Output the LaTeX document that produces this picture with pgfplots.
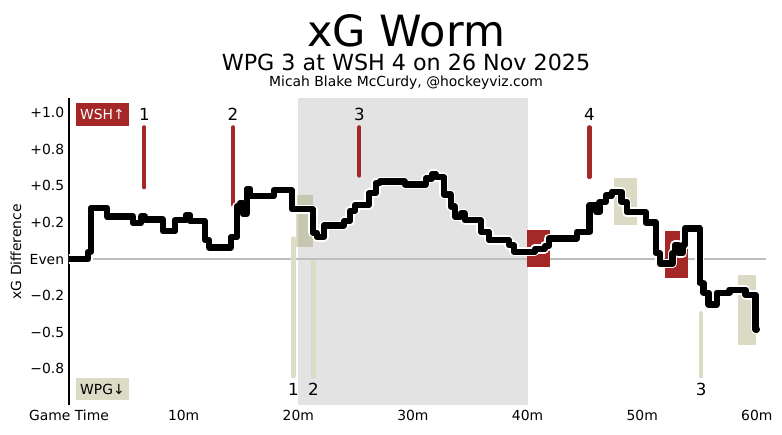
\documentclass[border=0pt]{standalone}
\usepackage{fontspec}
\setmainfont{DejaVu Sans}
\usepackage{pgfplots}
\usepackage{pgfplotstable}
\pgfplotsset{compat=1.18}
\definecolor{wshred}{RGB}{165,40,40}
\definecolor{wpgtan}{RGB}{220,220,198}
\definecolor{wpgbox}{RGB}{142,142,74}
\definecolor{bandgray}{RGB}{227,227,227}
\definecolor{zeroline}{RGB}{190,190,190}

\pgfplotstableread{
t v
0 0
1.66 0.05
1.92 0.35
3.31 0.29
5.58 0.245
6.28 0.29
6.63 0.27
8.20 0.19
9.24 0.265
10.20 0.30
10.55 0.26
11.86 0.13
12.21 0.08
14.12 0.15
14.65 0.36
14.91 0.38
15.17 0.31
15.52 0.48
15.78 0.43
17.87 0.47
19.44 0.34
21.27 0.18
21.62 0.15
22.23 0.23
23.98 0.26
24.50 0.33
24.94 0.37
26.16 0.45
26.77 0.52
27.11 0.53
29.29 0.51
31.12 0.55
31.65 0.58
32.00 0.56
32.69 0.44
33.30 0.36
33.65 0.29
34.18 0.31
34.52 0.265
35.92 0.185
36.62 0.13
38.36 0.095
38.80 0.05
40.63 0.07
41.50 0.09
41.85 0.14
44.29 0.185
45.42 0.37
46.03 0.32
46.29 0.39
46.82 0.435
47.34 0.46
48.21 0.39
48.65 0.32
50.31 0.25
51.18 0.04
51.53 -0.03
52.66 0.04
52.84 0.095
53.18 0.04
53.53 0.095
53.71 0.21
55.02 -0.165
55.36 -0.23
55.80 -0.31
56.50 -0.23
57.63 -0.21
59.02 -0.245
59.90 -0.48
60.00 -0.48
}\worm

\begin{document}
\begin{tikzpicture}
\begin{axis}[
  at={(0,0)}, anchor=south west,
  scale only axis, width=501.84pt, height=221.4pt,
  xmin=0, xmax=60.8, ymin=-1, ymax=1.1,
  enlargelimits=false,
  axis lines*=left,
  x axis line style={draw=none},
  y axis line style={-, line width=0.9pt},
  tick style={draw=none},
  xtick={0,10,20,30,40,50,60},
  xticklabels={Game Time,10m,20m,30m,40m,50m,60m},
  ytick={-0.75,-0.5,-0.25,0,0.25,0.5,0.75,1},
  yticklabels={−0.8,−0.5,−0.2,Even,+0.2,+0.5,+0.8,+1.0},
  tick label style={font=\fontsize{10}{12}\selectfont},
  ylabel={xG Difference},
  ylabel style={font=\fontsize{10}{12}\selectfont, at={(axis description cs:-0.076,0.5)}, anchor=center},
]
% second-period band (20m-40m)
\addplot[draw=none, fill=bandgray] coordinates {(20,-1) (40,-1) (40,1.1) (20,1.1)};
% zero line
\addplot[zeroline, line width=1.1pt] coordinates {(0,0) (60.8,0)};
% penalty boxes
\addplot[draw=none, fill=wpgbox, fill opacity=0.32] coordinates {(19.81,0.084) (21.29,0.084) (21.29,0.437) (19.81,0.437)};
\addplot[draw=none, fill=wshred] coordinates {(39.94,-0.053) (41.97,-0.053) (41.97,0.198) (39.94,0.198)};
\addplot[draw=none, fill=wpgbox, fill opacity=0.32] coordinates {(47.56,0.232) (49.54,0.232) (49.54,0.551) (47.56,0.551)};
\addplot[draw=none, fill=wshred] coordinates {(51.97,-0.132) (53.99,-0.132) (53.99,0.193) (51.97,0.193)};
\addplot[draw=none, fill=wpgbox, fill opacity=0.32] coordinates {(58.32,-0.587) (59.92,-0.587) (59.92,-0.109) (58.32,-0.109)};
% WSH goals
\addplot[wshred, line width=3pt, line cap=round] coordinates {(6.57,0.49) (6.57,0.90)};
\addplot[wshred, line width=3pt, line cap=round] coordinates {(14.31,0.37) (14.31,0.90)};
\addplot[wshred, line width=3pt, line cap=round] coordinates {(25.33,0.57) (25.33,0.90)};
\addplot[wshred, line width=3pt, line cap=round] coordinates {(45.40,0.56) (45.40,0.90)};
% WPG goals
\addplot[wpgtan, line width=3.2pt, line cap=round] coordinates {(19.57,-0.80) (19.57,0.14)};
\addplot[wpgtan, line width=3.2pt, line cap=round] coordinates {(21.32,-0.80) (21.32,-0.02)};
\addplot[wpgtan, line width=3.2pt, line cap=round] coordinates {(55.15,-0.80) (55.15,-0.37)};
% worm
\addplot[const plot, white, line width=6.8pt, line join=round, line cap=round] table[x=t, y=v] {\worm};
\addplot[const plot, black, line width=4.6pt, line join=round, line cap=round] table[x=t, y=v] {\worm};
% goal numbers
\node[font=\fontsize{12}{14}\selectfont] at (axis cs:6.57,0.99) {1};
\node[font=\fontsize{12}{14}\selectfont] at (axis cs:14.31,0.99) {2};
\node[font=\fontsize{12}{14}\selectfont] at (axis cs:25.33,0.99) {3};
\node[font=\fontsize{12}{14}\selectfont] at (axis cs:45.40,0.99) {4};
\node[font=\fontsize{12}{14}\selectfont] at (axis cs:19.57,-0.89) {1};
\node[font=\fontsize{12}{14}\selectfont] at (axis cs:21.32,-0.89) {2};
\node[font=\fontsize{12}{14}\selectfont] at (axis cs:55.15,-0.89) {3};
% team tags
\node[fill=wshred, text=white, minimum width=38.2pt, minimum height=16.1pt, inner sep=0pt, font=\fontsize{10}{12}\selectfont] at (rel axis cs:0.048,0.946) {WSH↑};
\node[fill=wpgtan, text=black, minimum width=38.2pt, minimum height=16.1pt, inner sep=0pt, font=\fontsize{10}{12}\selectfont] at (rel axis cs:0.048,0.053) {WPG↓};
\end{axis}
\begin{scope}[x=0.72pt, y=-0.72pt, shift={(-69,-405.5)}]
\node[anchor=base, inner sep=0pt, font=\fontsize{31}{35}\selectfont] at (406,47) {xG Worm};
\node[anchor=base, inner sep=0pt, font=\fontsize{16}{19}\selectfont] at (406,71) {WPG 3 at WSH 4 on 26 Nov 2025};
\node[anchor=base, inner sep=0pt, font=\fontsize{10}{12}\selectfont] at (406,87) {Micah Blake McCurdy, @hockeyviz.com};
\pgfresetboundingbox
\path[use as bounding box] (0,0) rectangle (782,435);
\end{scope}
\end{tikzpicture}
\end{document}
